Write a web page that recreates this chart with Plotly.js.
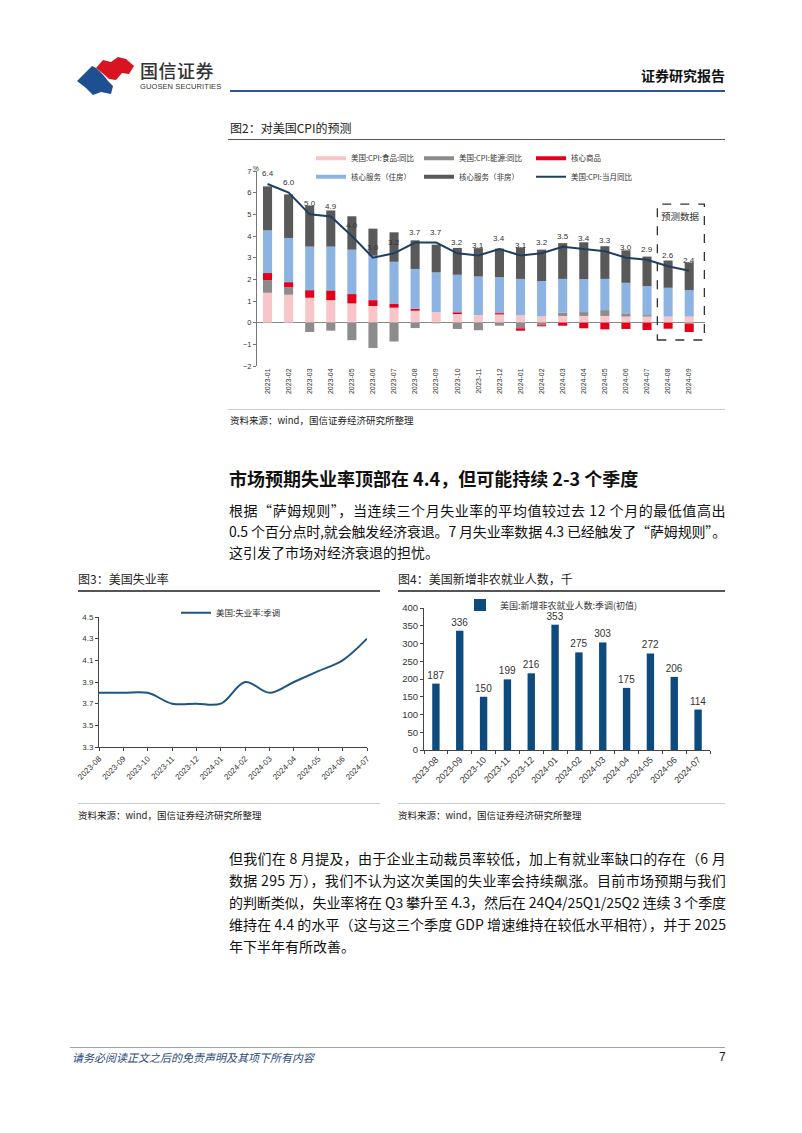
<!DOCTYPE html>
<html><head><meta charset="utf-8">
<script src="https://cdn.plot.ly/plotly-3.0.1.min.js"></script>
<style>
html,body{margin:0;padding:0;background:#fff;}
body{width:802px;height:1133px;position:relative;overflow:hidden;font-family:"Noto Sans CJK SC","Noto Sans",sans-serif;color:#111;}
.abs{position:absolute;white-space:nowrap;}
.ln{position:absolute;left:229px;width:497px;white-space:nowrap;font-size:14px;line-height:20px;height:20px;}
.ln span{display:inline-block;}
.rule{position:absolute;}
.ftitle{position:absolute;font-size:12px;line-height:16px;color:#222;white-space:nowrap;}
.src{position:absolute;font-size:9.5px;line-height:14px;color:#222;white-space:nowrap;}
</style></head><body>

<svg class="abs" style="left:0;top:0" width="802" height="120">
  <path d="M96,68 L103,60 L111,62 L118,57 L126,59 L134,66 L129,74 L122,73 L116,80 L109,79 C105,75 100,71 96,68 Z" fill="#d7141f"/>
  <path d="M77,81 L92,66 L96,68 C101,72 105,77 108,81 L113,86 L111,94 L101,92 L93,95 L86,88 Z" fill="#1d4f91"/>
</svg>
<div class="abs" style="left:140px;top:58px;font-size:18px;line-height:24px;color:#333;font-weight:500;letter-spacing:0.5px;">国信证券</div>
<div class="abs" style="left:140px;top:82px;font-size:7.5px;line-height:10px;color:#333;font-family:'Liberation Sans',sans-serif;letter-spacing:0.1px;">GUOSEN SECURITIES</div>
<div class="abs" style="right:77px;top:66px;font-size:14px;line-height:18px;font-weight:700;color:#111;">证券研究报告</div>
<div class="rule" style="left:230px;top:90px;width:495px;height:2px;background:#2f5597;"></div>

<div class="ftitle" style="left:230px;top:120px;">图2：对美国CPI的预测</div>
<div class="rule" style="left:228px;top:139px;width:497px;height:1.5px;background:#555;"></div>
<div id="cpi" class="abs" style="left:228px;top:140px;width:497px;height:265px;"></div>
<div class="rule" style="left:228px;top:409px;width:497px;height:1px;background:#ccc;"></div>
<div class="src" style="left:230px;top:413px;">资料来源：wind，国信证券经济研究所整理</div>

<div class="abs" style="left:229px;top:466px;font-size:18px;line-height:24px;font-weight:700;color:#111;">市场预期失业率顶部在 4.4，但可能持续 2-3 个季度</div>

<div class="ln" style="top:500px;"><span>根据“萨姆规则”，当连续三个月失业率的平均值较过去 12 个月的最低值高出</span></div>
<div class="ln" style="top:521px;"><span>0.5 个百分点时,就会触发经济衰退。7 月失业率数据 4.3 已经触发了“萨姆规则”。</span></div>
<div class="ln last" style="top:542px;"><span>这引发了市场对经济衰退的担忧。</span></div>

<div class="ftitle" style="left:78px;top:571px;">图3：美国失业率</div>
<div class="rule" style="left:78px;top:590px;width:302px;height:1.5px;background:#555;"></div>
<div class="ftitle" style="left:398px;top:571px;">图4：美国新增非农就业人数，千</div>
<div class="rule" style="left:398px;top:590px;width:327px;height:1.5px;background:#555;"></div>

<div id="unemp" class="abs" style="left:66px;top:595px;width:314px;height:195px;"></div>
<div id="nfp" class="abs" style="left:398px;top:595px;width:327px;height:195px;"></div>

<div class="rule" style="left:78px;top:803px;width:302px;height:1px;background:#ccc;"></div>
<div class="src" style="left:78px;top:808px;">资料来源：wind，国信证券经济研究所整理</div>
<div class="rule" style="left:398px;top:803px;width:327px;height:1px;background:#ccc;"></div>
<div class="src" style="left:398px;top:808px;">资料来源：wind，国信证券经济研究所整理</div>

<div class="ln" style="top:848px;"><span>但我们在 8 月提及，由于企业主动裁员率较低，加上有就业率缺口的存在（6 月</span></div>
<div class="ln" style="top:870px;"><span>数据 295 万），我们不认为这次美国的失业率会持续飙涨。目前市场预期与我们</span></div>
<div class="ln" style="top:892px;"><span>的判断类似，失业率将在 Q3 攀升至 4.3，然后在 24Q4/25Q1/25Q2 连续 3 个季度</span></div>
<div class="ln" style="top:914px;"><span>维持在 4.4 的水平（这与这三个季度 GDP 增速维持在较低水平相符），并于 2025</span></div>
<div class="ln last" style="top:936px;"><span>年下半年有所改善。</span></div>

<div class="rule" style="left:70px;top:1047px;width:655px;height:1px;background:#9aa3b5;"></div>
<div class="abs" style="left:72px;top:1050px;font-size:11px;line-height:15px;font-style:italic;color:#2b4a7a;">请务必阅读正文之后的免责声明及其项下所有内容</div>
<div class="abs" style="left:719px;top:1050px;font-size:12px;line-height:15px;color:#222;font-family:'Liberation Sans',sans-serif;">7</div>

<script>
// ---------- Figure 2 data ----------
const months = ['2023-01','2023-02','2023-03','2023-04','2023-05','2023-06','2023-07','2023-08','2023-09','2023-10','2023-11','2023-12','2024-01','2024-02','2024-03','2024-04','2024-05','2024-06','2024-07','2024-08','2024-09'];
const food       = [1.38,1.29,1.15,1.04,0.89,0.77,0.69,0.55,0.49,0.40,0.35,0.38,0.34,0.29,0.31,0.31,0.31,0.28,0.28,0.28,0.28];
const energy     = [0.58,0.34,-0.43,-0.37,-0.81,-1.17,-0.87,-0.25,-0.03,-0.29,-0.35,-0.14,-0.26,-0.12,0.15,0.18,0.27,0.15,0.07,0.00,-0.05];
const coreGoods  = [0.33,0.24,0.35,0.45,0.43,0.27,0.17,0.09,0.00,0.08,0.00,0.06,-0.11,-0.05,-0.14,-0.26,-0.31,-0.29,-0.34,-0.28,-0.38];
const housing    = [1.97,2.04,2.01,2.02,2.05,2.05,1.95,1.84,1.83,1.73,1.78,1.66,1.68,1.63,1.56,1.52,1.44,1.41,1.34,1.33,1.22];
const nonHousing = [2.03,2.01,1.89,1.67,1.54,1.25,1.36,1.32,1.28,1.24,1.31,1.32,1.45,1.45,1.65,1.70,1.51,1.50,1.36,1.26,1.28];
const cpi        = [6.4,6.0,5.0,4.9,4.0,3.0,3.2,3.7,3.7,3.2,3.1,3.4,3.1,3.2,3.5,3.4,3.3,3.0,2.9,2.6,2.4];
const cpiNames   = ['美国:CPI:食品:同比','美国:CPI:能源:同比','核心商品','核心服务（住房）','核心服务（非房）','美国:CPI:当月同比'];
const forecastLabel = '预测数据';

// ---------- Figure 3 data ----------
const uMonths = ['2023-08','2023-09','2023-10','2023-11','2023-12','2024-01','2024-02','2024-03','2024-04','2024-05','2024-06','2024-07'];
const uRate   = [3.8,3.8,3.8,3.7,3.7,3.7,3.9,3.8,3.9,4.0,4.1,4.3];
const uName   = '美国:失业率:季调';

// ---------- Figure 4 data ----------
const nfpMonths = ['2023-08','2023-09','2023-10','2023-11','2023-12','2024-01','2024-02','2024-03','2024-04','2024-05','2024-06','2024-07'];
const nfp       = [187,336,150,199,216,353,275,303,175,272,206,114];
const nfpName   = '美国:新增非农就业人数:季调(初值)';

const FONT = 'Liberation Sans, Noto Sans CJK SC, sans-serif';
const CJK = 'Noto Sans CJK SC, sans-serif';
const cfg = {staticPlot:true, displayModeBar:false};

// ---------- Figure 2 ----------
(function(){
  const series = [food, energy, coreGoods, housing, nonHousing];
  const colors = ['#f8c5c8','#8c8c8c','#e2001a','#8db3e2','#595959','#1f3f60'];
  const legendIds = ['legend','legend2','legend3','legend4','legend5','legend6'];
  const traces = [];
  series.forEach((s,i)=>{
    traces.push({type:'bar', x:months, y:s, marker:{color:colors[i]}, showlegend:false, hoverinfo:'skip'});
  });
  series.forEach((s,i)=>{
    traces.push({type:'scatter', mode:'lines', x:[null], y:[null], name:cpiNames[i], line:{color:colors[i], width:4}, legend:legendIds[i]});
  });
  traces.push({type:'scatter', mode:'lines', x:months, y:cpi, name:cpiNames[5], line:{color:colors[5], width:2}, legend:legendIds[5]});

  const W = 448, H = 195;
  const lx = [311,419,531].map(v=>(v-257)/W);
  const ly = [1+(171-158.3)/H, 1-(176.7-171)/H];
  const layout = {
    width:497, height:265,
    margin:{l:29, r:20, t:31, b:39, autoexpand:false},
    paper_bgcolor:'#fff', plot_bgcolor:'#fff',
    barmode:'relative', bargap:0.57,
    font:{family:FONT, size:8, color:'#333'},
    xaxis:{type:'category', range:[-0.5,20.75], tickangle:-90, tickfont:{size:7, color:'#333'}, showline:false, ticks:'', showgrid:false, zeroline:false, automargin:false},
    yaxis:{range:[-2,7], tickvals:[-2,-1,0,1,2,3,4,5,6,7], tickfont:{size:7.5,color:'#333'}, showline:true, linecolor:'#777', linewidth:1, ticks:'outside', ticklen:3, tickcolor:'#777', showgrid:false, zeroline:true, zerolinecolor:'#888', zerolinewidth:1, automargin:false},
    shapes:[{type:'rect', xref:'x', yref:'y', x0:18.49, x1:20.72, y0:-0.80, y1:5.47, line:{color:'#333', width:1.3, dash:'dash'}}],
    annotations: cpi.map((v,i)=>({xref:'x', yref:'y', x:months[i], y:v, text:v.toFixed(1), showarrow:false, yshift:10.5, font:{size:8,color:'#333',family:FONT}}))
      .concat([
        {xref:'x', yref:'y', x:19.57, y:4.91, text:forecastLabel, showarrow:false, font:{size:9.5,color:'#333',family:CJK}},
        {xref:'paper', yref:'paper', x:-0.002, y:1+(171-163)/H, text:'%', showarrow:false, xanchor:'center', font:{size:6.5,color:'#333'}}
      ])
  };
  legendIds.forEach((id,i)=>{
    layout[id] = {x:lx[i%3], y:ly[Math.floor(i/3)], xanchor:'left', yanchor:'middle', bgcolor:'rgba(0,0,0,0)', borderwidth:0,
      font:{size:7.5, color:'#333', family:CJK}, itemwidth:30, tracegroupgap:0};
  });
  Plotly.newPlot('cpi', traces, layout, cfg);
})();

// ---------- Figure 3 ----------
(function(){
  const W = 268, H = 130;
  const traces = [{type:'scatter', mode:'lines', x:uMonths, y:uRate, name:uName, line:{color:'#1f5582', width:2, shape:'spline', smoothing:1}}];
  const layout = {
    width:314, height:195,
    margin:{l:33, r:13, t:22, b:43, autoexpand:false},
    paper_bgcolor:'rgba(0,0,0,0)', plot_bgcolor:'rgba(0,0,0,0)',
    font:{family:FONT, size:8, color:'#333'},
    showlegend:true,
    legend:{x:(176-99)/W, y:1+(617-612.7)/H, xanchor:'left', yanchor:'middle', bgcolor:'rgba(0,0,0,0)', font:{size:8.5,color:'#333',family:CJK}, itemwidth:30},
    xaxis:{type:'category', range:[0,11], tickangle:-45, tickfont:{size:8,color:'#333'}, showline:true, linecolor:'#444', linewidth:1, ticks:'outside', ticklen:3, tickcolor:'#444', showgrid:false, zeroline:false, automargin:false},
    yaxis:{range:[3.3,4.5], tick0:3.3, dtick:0.2, tickformat:'.1f', tickfont:{size:8,color:'#333'}, showline:true, linecolor:'#444', linewidth:1, ticks:'outside', ticklen:3, tickcolor:'#444', showgrid:false, zeroline:false, automargin:false}
  };
  Plotly.newPlot('unemp', traces, layout, cfg);
})();

// ---------- Figure 4 ----------
(function(){
  const W = 286, H = 142;
  const traces = [{type:'bar', x:nfpMonths, y:nfp, name:nfpName, marker:{color:'#0f4a7d'}, text:nfp.map(String), textposition:'outside', constraintext:'none', textfont:{size:10,color:'#333'}, cliponaxis:false, showlegend:true}];
  const layout = {
    width:327, height:195,
    margin:{l:26, r:15, t:13, b:40, autoexpand:false},
    paper_bgcolor:'rgba(0,0,0,0)', plot_bgcolor:'rgba(0,0,0,0)',
    bargap:0.69,
    font:{family:FONT, size:9, color:'#333'},
    showlegend:true,
    legend:{x:(460-424)/W, y:1+(608-605)/H, xanchor:'left', yanchor:'middle', bgcolor:'rgba(0,0,0,0)', font:{size:9,color:'#333',family:CJK}, itemwidth:30},
    xaxis:{type:'category', tickangle:-45, tickson:'boundaries', tickfont:{size:9,color:'#333'}, showline:true, linecolor:'#444', linewidth:1, ticks:'outside', ticklen:3, tickcolor:'#444', showgrid:false, zeroline:false, automargin:false},
    yaxis:{range:[0,400], dtick:50, tickfont:{size:9.5,color:'#333'}, showline:true, linecolor:'#444', linewidth:1, ticks:'outside', ticklen:3, tickcolor:'#444', showgrid:false, zeroline:false, automargin:false}
  };
  Plotly.newPlot('nfp', traces, layout, cfg);
})();

// ---------- justify body text lines ----------
document.querySelectorAll('.ln').forEach(el=>{
  if(el.classList.contains('last')) return;
  const sp = el.querySelector('span');
  const w = sp.getBoundingClientRect().width;
  const n = Array.from(sp.textContent).length;
  const ls = (497 - w) / n;
  sp.style.letterSpacing = ls + 'px';
});
</script>
</body></html>
